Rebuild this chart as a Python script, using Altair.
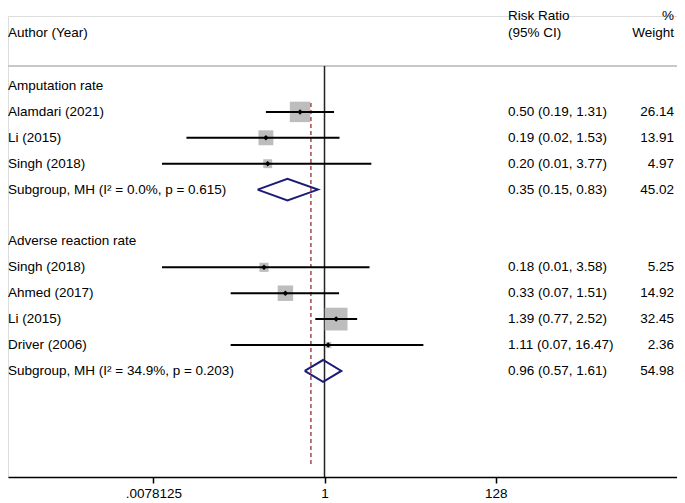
import altair as alt
import pandas as pd

# ---------------- data ----------------
group_names = ["Amputation rate", "Adverse reaction rate"]
group_rows = [0, 6]

study_labels = ["Alamdari (2021)", "Li (2015)", "Singh (2018)",
                "Singh (2018)", "Ahmed (2017)", "Li (2015)", "Driver (2006)"]
study_rows = [1, 2, 3, 7, 8, 9, 10]
study_rr = [0.50, 0.19, 0.20, 0.18, 0.33, 1.39, 1.11]
study_lo = [0.19, 0.02, 0.01, 0.01, 0.07, 0.77, 0.07]
study_hi = [1.31, 1.53, 3.77, 3.58, 1.51, 2.52, 16.47]
study_weight = [26.14, 13.91, 4.97, 5.25, 14.92, 32.45, 2.36]

sub_rows = [4, 11]
sub_i2 = ["0.0", "34.9"]
sub_p = ["0.615", "0.203"]
sub_rr = [0.35, 0.96]
sub_lo = [0.15, 0.57]
sub_hi = [0.83, 1.61]
sub_weight = [45.02, 54.98]

overall_rr = 0.68

tick_values = [0.0078125, 1, 128]
tick_labels = [".0078125", "1", "128"]

FONT = "Liberation Sans"
FS = 13.5
W, H = 669, 461

# ---------------- tables ----------------
studies = pd.DataFrame({
    "label": study_labels, "row": study_rows, "rr": study_rr,
    "lo": study_lo, "hi": study_hi, "weight": study_weight,
})
studies["ci"] = [f"{e:.2f} ({l:.2f}, {h:.2f})" for e, l, h in zip(study_rr, study_lo, study_hi)]
studies["wt"] = [f"{w:.2f}" for w in study_weight]

subs = pd.DataFrame({
    "label": [f"Subgroup, MH (I\u00b2 = {i}%, p = {p})" for i, p in zip(sub_i2, sub_p)],
    "row": sub_rows, "rr": sub_rr, "lo": sub_lo, "hi": sub_hi,
})
subs["ci"] = [f"{e:.2f} ({l:.2f}, {h:.2f})" for e, l, h in zip(sub_rr, sub_lo, sub_hi)]
subs["wt"] = [f"{w:.2f}" for w in sub_weight]

HALF = 0.42
poly = []
for g, (r, e, l, h) in enumerate(zip(sub_rows, sub_rr, sub_lo, sub_hi)):
    pts = [(l, r), (e, r - HALF), (h, r), (e, r + HALF), (l, r)]
    for k, (xv, yv) in enumerate(pts):
        poly.append({"g": g, "k": k, "x": xv, "y": yv})
poly = pd.DataFrame(poly)

left_text = pd.concat([
    pd.DataFrame({"label": group_names, "row": group_rows}),
    studies[["label", "row"]],
    subs[["label", "row"]],
])
right_text = pd.concat([studies[["row", "ci", "wt"]], subs[["row", "ci", "wt"]]])

headers_left = pd.DataFrame({"t": ["Author (Year)"], "row": [-2.05]})
headers_mid = pd.DataFrame({"t": ["Risk Ratio", "(95% CI)"], "row": [-2.72, -2.05]})
headers_right = pd.DataFrame({"t": ["%", "Weight"], "row": [-2.72, -2.05]})

# ---------------- scales ----------------
xscale = alt.Scale(type="log", base=2, domain=[0.0001273, 21769], nice=False)
yscale = alt.Scale(domain=[-2.703, 15.097], reverse=True, nice=False, zero=False)

label_expr = "''"
for v, l in reversed(list(zip(tick_values, tick_labels))):
    label_expr = f"abs(datum.value - {v}) < 1e-9 ? '{l}' : ({label_expr})"

xaxis = alt.Axis(values=tick_values, labelExpr=label_expr, title=None, grid=False,
                 domainColor="black", domainWidth=1.5, tickColor="black", tickWidth=1.5,
                 tickSize=6, labelFont=FONT, labelFontSize=FS, labelColor="black",
                 labelPadding=3, labelFlush=False, labelOverlap=False)

X = lambda f: alt.X(f, type="quantitative", scale=xscale, axis=xaxis)
Y = lambda f: alt.Y(f, type="quantitative", scale=yscale, axis=None)

base_df = pd.DataFrame({"a": [0]})

# top separator line
sep = alt.Chart(base_df).mark_rule(color="#c8c8c8", strokeWidth=2).encode(
    x=alt.value(0), x2=alt.value(W), y=alt.Y(datum=-0.77, type="quantitative", scale=yscale, axis=None))

# null line at 1
null_line = alt.Chart(base_df).mark_rule(color="#222222", strokeWidth=1.5).encode(
    x=alt.X(datum=1, type="quantitative", scale=xscale, axis=xaxis),
    y=alt.Y(datum=-0.77, type="quantitative", scale=yscale, axis=None),
    y2=alt.value(H))

# dashed overall line
dashed = alt.Chart(base_df).mark_rule(color="#a04a4a", strokeWidth=1.5, strokeDash=[4, 3]).encode(
    x=alt.X(datum=overall_rr, type="quantitative", scale=xscale, axis=xaxis),
    y=alt.Y(datum=0.66, type="quantitative", scale=yscale, axis=None),
    y2=alt.Y2(datum=14.6))

squares = alt.Chart(studies).mark_point(shape="square", filled=True, color="#bdbdbd",
                                        opacity=1, strokeWidth=0).encode(
    x=X("rr"), y=Y("row"),
    size=alt.Size("weight:Q", scale=alt.Scale(domain=[0, 100], range=[0, 1600]), legend=None))

ci = alt.Chart(studies).mark_rule(color="black", strokeWidth=2).encode(
    x=X("lo"), x2="hi", y=Y("row"))

pts = alt.Chart(studies).mark_point(shape="diamond", filled=True, color="black",
                                    opacity=1, size=30).encode(x=X("rr"), y=Y("row"))

diamonds = alt.Chart(poly).mark_line(color="#1c1c78", strokeWidth=2).encode(
    x=X("x"), y=Y("y"), detail="g:N", order="k:Q")

txt = dict(font=FONT, fontSize=FS, color="black", baseline="middle")

left_labels = alt.Chart(left_text).mark_text(align="left", **txt).encode(
    x=alt.value(0), y=Y("row"), text="label:N")
ci_text = alt.Chart(right_text).mark_text(align="left", **txt).encode(
    x=alt.value(500), y=Y("row"), text="ci:N")
wt_text = alt.Chart(right_text).mark_text(align="right", **txt).encode(
    x=alt.value(666), y=Y("row"), text="wt:N")

h_left = alt.Chart(headers_left).mark_text(align="left", **txt).encode(
    x=alt.value(0), y=Y("row"), text="t:N")
h_mid = alt.Chart(headers_mid).mark_text(align="left", **txt).encode(
    x=alt.value(500), y=Y("row"), text="t:N")
h_right = alt.Chart(headers_right).mark_text(align="right", **txt).encode(
    x=alt.value(666), y=Y("row"), text="t:N")

chart = alt.layer(
    sep, null_line, squares, dashed, ci, pts, diamonds,
    left_labels, ci_text, wt_text, h_left, h_mid, h_right,
).properties(
    width=W, height=H,
    padding={"left": 0, "right": 0, "top": 8, "bottom": 26},
    autosize=alt.AutoSizeParams(type="none"),
).configure_view(stroke=None).configure(background="white")

chart.save("out.html", embed_options={"renderer": "svg", "actions": False})
